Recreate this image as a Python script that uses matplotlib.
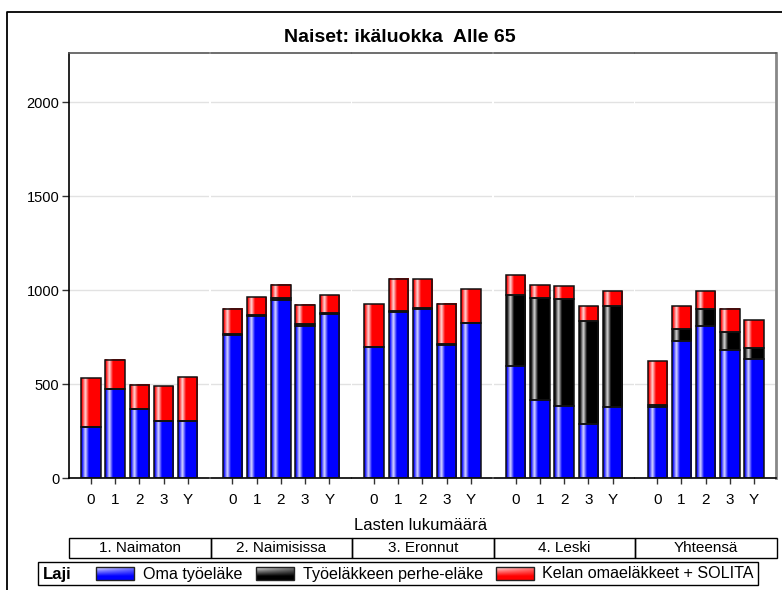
#Naiset: ikäluokka Alle 65 - stacked pension bars by marital status and number of children

import numpy as np
import matplotlib
import matplotlib.pyplot as plt
import matplotlib.colors as mcolors
from matplotlib.patches import Rectangle

plt.rcParams["font.family"] = ["Liberation Sans", "DejaVu Sans"]

#data:
panels = ["1. Naimaton", "2. Naimisissa", "3. Eronnut", "4. Leski", "Yhteensä"]
children = ["0", "1", "2", "3", "Y"]
oma = [[273, 472, 365, 305, 305],
       [761, 863, 950, 810, 872],
       [695, 885, 902, 707, 823],
       [596, 415, 383, 285, 376],
       [379, 730, 810, 681, 633]]
perhe = [[0, 0, 0, 0, 0],
         [4, 6, 6, 10, 8],
         [3, 3, 3, 5, 4],
         [376, 541, 569, 552, 542],
         [9, 63, 89, 96, 60]]
kela = [[257, 156, 128, 184, 232],
        [134, 94, 71, 102, 93],
        [228, 171, 154, 214, 180],
        [106, 69, 69, 78, 75],
        [234, 122, 94, 125, 149]]
series_names = ["Oma työeläke", "Työeläkkeen perhe-eläke", "Kelan omaeläkkeet + SOLITA"]
series_colors = ["#0000ff", "#000000", "#ff0000"]
yticks = [0, 500, 1000, 1500, 2000]

W, H = 782, 590


def grad_img(color, center=0.22, half=0.18, n=64):
    #horizontal highlight stripe for the bars
    base = np.array(mcolors.to_rgb(color))
    f = np.linspace(0, 1, n)
    w = np.clip(1 - np.abs(f - center) / half, 0, 1) * 0.85
    img = base * (1 - w[:, None]) + w[:, None]
    return img[None, :, :]


def legend_img(color, n=32):
    #light top-left, solid bottom-right for the legend keys
    base = np.array(mcolors.to_rgb(color))
    fy = np.linspace(0, 1, n)[:, None]
    fx = np.linspace(0, 1, n)[None, :]
    w = np.clip(1 - fy / 0.7, 0, 1) * 0.9 * (1 - 0.45 * fx)
    return base * (1 - w[..., None]) + w[..., None]


fig = plt.figure(figsize=(W / 100, H / 100), dpi=100)

#overlay axes in pixel coords for border, boxes, legend
ov = fig.add_axes([0, 0, 1, 1])
ov.set_xlim(0, W)
ov.set_ylim(H, 0)
ov.axis("off")

px_left, px_right, px_top, px_bot = 69, 777, 53, 478
pw = (px_right - px_left) / 5
x = np.arange(len(children))

for i, name in enumerate(panels):
    l = px_left + i * pw
    ax = fig.add_axes([l / W, 1 - px_bot / H, (pw - 1.5) / W, (px_bot - px_top) / H])
    bottom = np.zeros(len(children))
    for vals, col in zip([oma[i], perhe[i], kela[i]], series_colors):
        vals = np.array(vals, dtype=float)
        bars = ax.bar(x, vals, 0.8, bottom=bottom, color=col, edgecolor="none", zorder=2)
        for p in bars:
            if p.get_height() <= 0:
                continue
            ax.imshow(grad_img(col), extent=[p.get_x(), p.get_x() + p.get_width(),
                                            p.get_y(), p.get_y() + p.get_height()],
                      aspect="auto", zorder=2.1, interpolation="bilinear")
        ax.bar(x, vals, 0.8, bottom=bottom, fill=False, edgecolor="#111111", linewidth=1.1, zorder=3)
        bottom += vals
    ax.set_xlim(-0.9, 4.88)
    ax.set_ylim(0, 2262)
    ax.set_yticks(yticks)
    ax.grid(axis="y", color="#e2e2e2", linewidth=1, zorder=0)
    ax.set_axisbelow(True)
    ax.set_xticks(x)
    ax.set_xticklabels(children, fontsize=11)
    ax.tick_params(axis="x", length=4.5, width=1, color="#333333", pad=6.5)
    ax.spines["top"].set_color("#555555")
    ax.spines["top"].set_linewidth(1.2)
    ax.spines["bottom"].set_linewidth(1.2)
    if i == 0:
        ax.spines["left"].set_linewidth(1.2)
        ax.tick_params(axis="y", length=5, width=1, color="#333333", pad=2, labelsize=10.5)
    else:
        ax.spines["left"].set_visible(False)
        ax.tick_params(axis="y", left=False, labelleft=False)
    if i == 4:
        ax.spines["right"].set_color("#888888")
        ax.spines["right"].set_linewidth(2)
    else:
        ax.spines["right"].set_visible(False)

    #panel label box
    ov.add_patch(Rectangle((l, 538), pw, 20, fill=False, edgecolor="black", linewidth=1))
    ov.text(l + pw / 2, 548.5, name, ha="center", va="center", fontsize=11)

#outer border (top and left only)
ov.plot([7, 7, W], [H, 12, 12], color="black", linewidth=1.3)

#title and axis label
ov.text(400, 37, "Naiset: ikäluokka  Alle 65", ha="center", va="center",
        fontsize=14, fontweight="bold")
ov.text(421, 525, "Lasten lukumäärä", ha="center", va="center", fontsize=12)

#legend
ov.add_patch(Rectangle((38, 562), 720, 23, fill=False, edgecolor="black", linewidth=1))
ov.text(43, 574, "Laji", ha="left", va="center", fontsize=12, fontweight="bold")
leg_x = [96, 256, 496]
text_x = [143, 303, 542]
for lx, tx, name, col in zip(leg_x, text_x, series_names, series_colors):
    ov.imshow(legend_img(col), extent=[lx, lx + 38, 580, 567],
              aspect="auto", interpolation="bilinear")
    ov.add_patch(Rectangle((lx, 567), 38, 13, fill=False, edgecolor="#222222", linewidth=1))
    ov.text(tx, 574, name, ha="left", va="center", fontsize=11.6)
ov.set_xlim(0, W)
ov.set_ylim(H, 0)

plt.savefig("out.png", dpi=100)
